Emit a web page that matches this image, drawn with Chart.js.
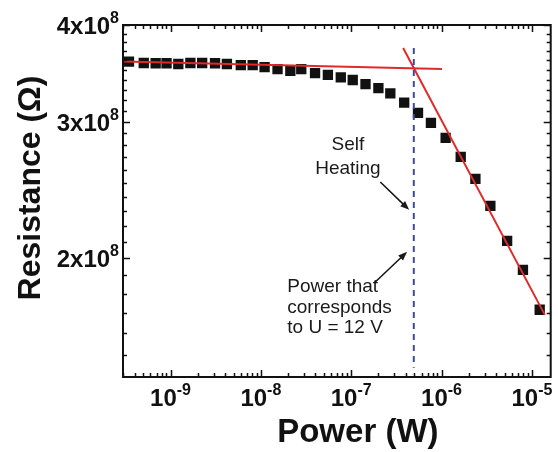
<!DOCTYPE html>
<html lang="en">
<head>
  <meta charset="UTF-8">
  <title>Resistance vs Power</title>
  <script src="https://cdn.jsdelivr.net/npm/chart.js"></script>
  <style>
    html, body {
      margin: 0;
      padding: 0;
      background: #fff;
    }
    .chart-box {
      width: 558px;
      height: 452px;
    }
  </style>
</head>
<body>
  <div class="chart-box">
    <canvas id="resistanceChart" width="558" height="452"></canvas>
  </div>

  <script>
    // measured points: power (W) and resistance (ohm)
    const powerW = [3.47e-10, 5.06e-10, 6.85e-10, 9.04e-10, 1.22e-9, 1.66e-9, 2.24e-9, 3.11e-9,
      4.21e-9, 6.00e-9, 8.12e-9, 1.10e-8, 1.53e-8, 2.12e-8, 2.80e-8, 3.98e-8, 5.52e-8, 7.67e-8,
      1.04e-7, 1.44e-7, 2.00e-7, 2.71e-7, 3.86e-7, 5.49e-7, 7.63e-7, 1.11e-6, 1.63e-6, 2.37e-6,
      3.47e-6, 5.32e-6, 7.96e-6, 1.22e-5];
    const resistanceOhm = [3.587e8, 3.573e8, 3.570e8, 3.570e8, 3.562e8, 3.573e8, 3.573e8, 3.570e8,
      3.562e8, 3.551e8, 3.551e8, 3.530e8, 3.509e8, 3.490e8, 3.509e8, 3.466e8, 3.448e8, 3.424e8,
      3.397e8, 3.355e8, 3.315e8, 3.265e8, 3.175e8, 3.081e8, 2.990e8, 2.860e8, 2.703e8, 2.532e8,
      2.336e8, 2.106e8, 1.932e8, 1.716e8];

    // the two red fit lines
    const flatFitPower = [2.98e-10, 1.01e-6];
    const flatFitRes = [3.589e8, 3.509e8];
    const steepFitPower = [3.76e-7, 1.39e-5];
    const steepFitRes = [3.736e8, 1.690e8];

    // dashed marker: power at U = 12 V
    const markerPower = [4.93e-7, 4.93e-7];
    const markerRes = [3.736e8, 1.444e8];

    // axis ranges and ticks
    const xMin = 2.98e-10, xMax = 1.615e-5;
    const yMin = 1.405e8, yMax = 4.0e8;
    const xTickValues = [1e-9, 1e-8, 1e-7, 1e-6, 1e-5];
    const xTickExp = ['-9', '-8', '-7', '-6', '-5'];
    const yTickValues = [2e8, 3e8, 4e8];
    const yTickLabels = ['2x10', '3x10', '4x10'];
    const yTickExp = ['8', '8', '8'];

    // annotations (data coordinates)
    const selfHeatText = ['Self', 'Heating'];
    const selfHeatPos = [[9.2e-8, 2.801e8], [9.2e-8, 2.608e8]];
    const selfHeatArrow = [[2.10e-7, 2.508e8], [4.38e-7, 2.309e8]];
    const voltText = ['Power that', 'corresponds', 'to U = 12 V'];
    const voltPos = [[1.96e-8, 1.837e8], [1.96e-8, 1.726e8], [1.96e-8, 1.626e8]];
    const voltArrow = [[1.81e-7, 1.859e8], [4.16e-7, 2.038e8]];

    const FONT = "'Liberation Sans', Arial, sans-serif";

    function pairs(xs, ys) {
      return xs.map((x, i) => ({ x: x, y: ys[i] }));
    }

    function drawArrow(ctx, x1, y1, x2, y2) {
      const ang = Math.atan2(y2 - y1, x2 - x1);
      const len = 9, half = 3.5;
      ctx.beginPath();
      ctx.moveTo(x1, y1);
      ctx.lineTo(x2 - Math.cos(ang) * len * 0.8, y2 - Math.sin(ang) * len * 0.8);
      ctx.stroke();
      ctx.beginPath();
      ctx.moveTo(x2, y2);
      ctx.lineTo(x2 - Math.cos(ang) * len - Math.sin(ang) * half, y2 - Math.sin(ang) * len + Math.cos(ang) * half);
      ctx.lineTo(x2 - Math.cos(ang) * len + Math.sin(ang) * half, y2 - Math.sin(ang) * len - Math.cos(ang) * half);
      ctx.closePath();
      ctx.fill();
    }

    // frame, inward ticks, power-of-ten labels, titles and notes
    const decorPlugin = {
      id: 'decor',
      afterDraw(chart) {
        const ctx = chart.ctx;
        const a = chart.chartArea;
        const xs = chart.scales.x, ys = chart.scales.y;
        ctx.save();
        ctx.strokeStyle = '#111';
        ctx.fillStyle = '#111';
        ctx.lineWidth = 2;
        ctx.strokeRect(a.left, a.top, a.right - a.left, a.bottom - a.top);

        // x ticks (bottom and top)
        ctx.lineWidth = 1.5;
        for (let d = -10; d <= -5; d++) {
          for (let m = 1; m <= 9; m++) {
            const v = m * Math.pow(10, d);
            if (v < xMin || v > xMax) continue;
            const px = Math.round(xs.getPixelForValue(v)) + 0.5;
            const len = m === 1 ? 7 : 4;
            ctx.beginPath();
            ctx.moveTo(px, a.bottom);
            ctx.lineTo(px, a.bottom - len);
            ctx.moveTo(px, a.top);
            ctx.lineTo(px, a.top + len);
            ctx.stroke();
          }
        }
        // y ticks (left and right), every 1e7
        for (let k = 15; k <= 40; k++) {
          const v = k * 1e7;
          if (v < yMin || v > yMax) continue;
          const py = Math.round(ys.getPixelForValue(v)) + 0.5;
          const len = k % 10 === 0 ? 7 : 4;
          ctx.beginPath();
          ctx.moveTo(a.left, py);
          ctx.lineTo(a.left + len, py);
          ctx.moveTo(a.right, py);
          ctx.lineTo(a.right - len, py);
          ctx.stroke();
        }

        // x tick labels 10^n
        ctx.textBaseline = 'alphabetic';
        ctx.textAlign = 'left';
        xTickValues.forEach((v, i) => {
          const px = xs.getPixelForValue(v);
          ctx.font = 'bold 24px ' + FONT;
          const w1 = ctx.measureText('10').width;
          ctx.font = 'bold 16px ' + FONT;
          const w2 = ctx.measureText(xTickExp[i]).width;
          const x0 = px - (w1 + w2) / 2;
          const base = a.bottom + 29;
          ctx.font = 'bold 24px ' + FONT;
          ctx.fillText('10', x0, base);
          ctx.font = 'bold 16px ' + FONT;
          ctx.fillText(xTickExp[i], x0 + w1, base - 11);
        });

        // y tick labels Nx10^8
        yTickValues.forEach((v, i) => {
          const py = ys.getPixelForValue(v);
          ctx.font = 'bold 16px ' + FONT;
          const w2 = ctx.measureText(yTickExp[i]).width;
          const xr = a.left - 4;
          const base = py + 9;
          ctx.fillText(yTickExp[i], xr - w2, base - 11);
          ctx.font = 'bold 24px ' + FONT;
          const w1 = ctx.measureText(yTickLabels[i]).width;
          ctx.fillText(yTickLabels[i], xr - w2 - w1, base);
        });

        // axis titles
        ctx.font = 'bold 33px ' + FONT;
        ctx.textAlign = 'center';
        ctx.fillText('Power (W)', (a.left + a.right) / 2 + 21, a.bottom + 65);
        ctx.save();
        ctx.translate(40, (a.top + a.bottom) / 2 - 13);
        ctx.rotate(-Math.PI / 2);
        ctx.font = 'bold 32px ' + FONT;
        ctx.fillText('Resistance (\u03A9)', 0, 0);
        ctx.restore();

        // notes
        ctx.font = '19px ' + FONT;
        ctx.fillStyle = '#1a1a1a';
        ctx.textBaseline = 'middle';
        ctx.textAlign = 'center';
        selfHeatText.forEach((t, i) => {
          ctx.fillText(t, xs.getPixelForValue(selfHeatPos[i][0]), ys.getPixelForValue(selfHeatPos[i][1]));
        });
        ctx.textAlign = 'left';
        voltText.forEach((t, i) => {
          ctx.fillText(t, xs.getPixelForValue(voltPos[i][0]), ys.getPixelForValue(voltPos[i][1]));
        });

        ctx.lineWidth = 1.5;
        [selfHeatArrow, voltArrow].forEach(arr => {
          drawArrow(ctx,
            xs.getPixelForValue(arr[0][0]), ys.getPixelForValue(arr[0][1]),
            xs.getPixelForValue(arr[1][0]), ys.getPixelForValue(arr[1][1]));
        });
        ctx.restore();
      }
    };

    new Chart(document.getElementById('resistanceChart').getContext('2d'), {
      type: 'scatter',
      data: {
        datasets: [
          {
            label: 'Measured',
            data: pairs(powerW, resistanceOhm),
            pointStyle: 'rect',
            pointRadius: 7.3,
            backgroundColor: '#111',
            borderColor: '#111',
            borderWidth: 0,
            showLine: false,
            order: 3
          },
          {
            label: 'Flat fit',
            data: pairs(flatFitPower, flatFitRes),
            showLine: true,
            borderColor: '#e02a2a',
            borderWidth: 2,
            pointRadius: 0,
            order: 1
          },
          {
            label: 'Steep fit',
            data: pairs(steepFitPower, steepFitRes),
            showLine: true,
            borderColor: '#e02a2a',
            borderWidth: 2,
            pointRadius: 0,
            order: 1
          },
          {
            label: 'U = 12 V',
            data: pairs(markerPower, markerRes),
            showLine: true,
            borderColor: '#3c4c9c',
            borderWidth: 2,
            borderDash: [6, 5],
            pointRadius: 0,
            order: 0
          }
        ]
      },
      options: {
        responsive: false,
        animation: false,
        devicePixelRatio: 1,
        layout: {
          padding: { left: 123, right: 3, top: 25, bottom: 75 }
        },
        plugins: {
          legend: { display: false },
          tooltip: { enabled: false }
        },
        scales: {
          x: { type: 'logarithmic', min: xMin, max: xMax, display: false },
          y: { type: 'logarithmic', min: yMin, max: yMax, display: false }
        }
      },
      plugins: [decorPlugin]
    });
  </script>
</body>
</html>
